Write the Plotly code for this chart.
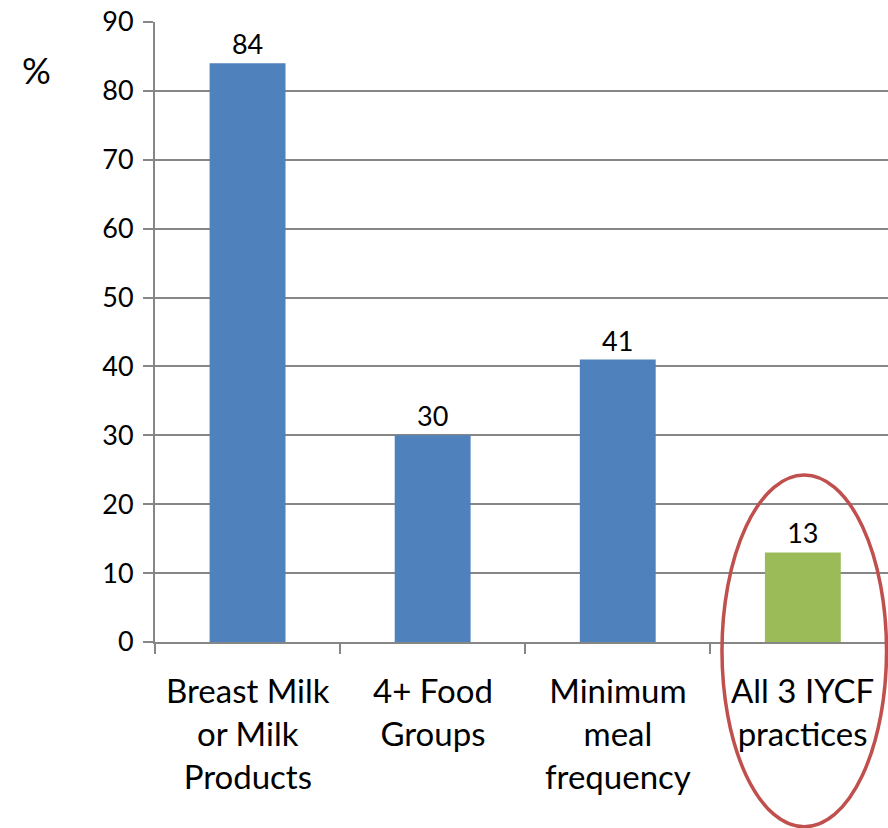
import plotly.graph_objects as go

# Feeding indicators and their percentages
categories = ["Breast Milk<br>or Milk<br>Products", "4+ Food<br>Groups",
              "Minimum<br>meal<br>frequency", "All 3 IYCF<br>practices"]
values = [84, 30, 41, 13]
bar_colors = ["#4F81BD", "#4F81BD", "#4F81BD", "#9BBB59"]
y_ticks = [0, 10, 20, 30, 40, 50, 60, 70, 80, 90]

FONT = "Lato"
GREY = "#868686"

positions = list(range(len(categories)))

fig = go.Figure()
fig.add_trace(go.Bar(
    x=positions, y=values,
    marker=dict(color=bar_colors, line=dict(width=0)),
    width=0.41,
    text=[str(v) for v in values],
    textposition="outside",
    textfont=dict(family=FONT, size=27, color="#000000"),
    cliponaxis=False,
))

# Category labels under each bar
for p, label in zip(positions, categories):
    fig.add_annotation(
        x=p, y=0, xref="x", yref="paper", yanchor="top", yshift=-26,
        text=label, showarrow=False, align="center",
        font=dict(family=FONT, size=33, color="#000000"),
    )

# Axis unit, left of the value axis
fig.add_annotation(
    x=-0.161, y=0.923, xref="paper", yref="paper", text="%", showarrow=False,
    xanchor="center", yanchor="middle",
    font=dict(family=FONT, size=36, color="#000000"),
)

# Highlight ring around the combined indicator
fig.add_shape(
    type="circle", xref="paper", yref="paper",
    x0=0.7735, x1=0.998, y0=-0.298, y1=0.2694,
    line=dict(color="#C0504D", width=3.5),
)

fig.update_layout(
    width=888, height=828,
    margin=dict(l=155, r=0, t=22, b=186),
    paper_bgcolor="white", plot_bgcolor="white",
    showlegend=False,
    xaxis=dict(
        range=[-0.5, 3.46],
        tickmode="array", tickvals=[-0.5, 0.5, 1.5, 2.5], ticktext=["", "", "", ""],
        ticks="outside", ticklen=10, tickcolor=GREY, tickwidth=2,
        showline=True, linecolor=GREY, linewidth=2,
        showgrid=False, zeroline=False,
    ),
    yaxis=dict(
        range=[0, 90], tickvals=y_ticks,
        ticks="outside", ticklen=10, tickcolor=GREY, tickwidth=2,
        showline=True, linecolor=GREY, linewidth=2,
        showgrid=True, gridcolor=GREY, gridwidth=1.5,
        zeroline=False,
        tickfont=dict(family=FONT, size=27, color="#000000"),
        ticklabelstandoff=4,
    ),
)

fig.write_html("out.html")
